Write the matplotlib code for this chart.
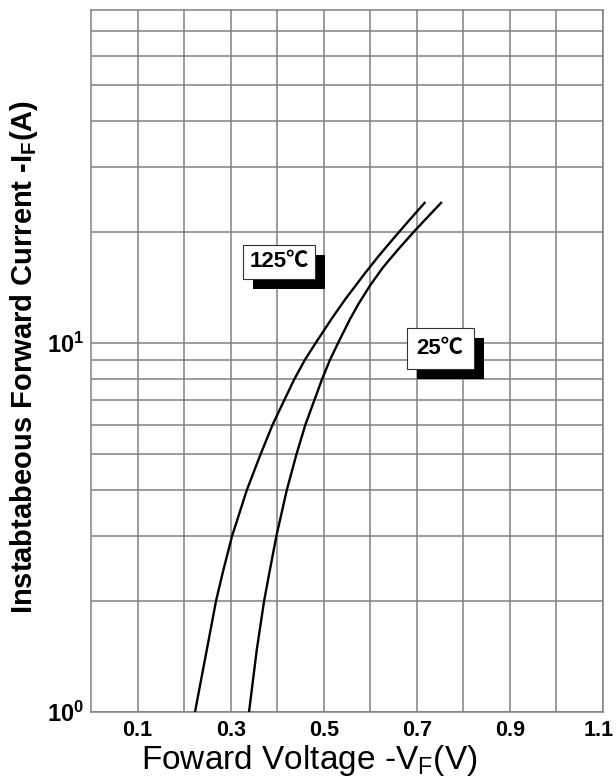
import matplotlib
matplotlib.use("Agg")
import matplotlib.pyplot as plt
import matplotlib.patheffects as pe
import matplotlib.transforms as mtransforms
from matplotlib.ticker import FixedLocator, NullFormatter

plt.rcParams['font.family'] = ['Liberation Sans', 'DejaVu Sans']
plt.rcParams['mathtext.fontset'] = 'custom'
plt.rcParams['mathtext.rm'] = 'Liberation Sans'
plt.rcParams['mathtext.bf'] = 'Liberation Sans:bold'
plt.rcParams['mathtext.it'] = 'Liberation Sans:italic'

# curves: forward voltage (V) vs forward current (A)
v_125 = [0.2234, 0.2486, 0.2686, 0.2845, 0.3031, 0.3349, 0.3644, 0.3899, 0.4151, 0.4372,
         0.4593, 0.4825, 0.5165, 0.5466, 0.5902, 0.6160, 0.6491, 0.6802, 0.7167]
i_125 = [1.0, 1.47, 2.0, 2.43, 3.0, 4.0, 5.0, 6.0, 7.0, 8.0,
         9.0, 10.0, 11.62, 13.17, 15.56, 17.1, 19.17, 21.28, 24.0]
v_25 = [0.3395, 0.3560, 0.3719, 0.3844, 0.3983, 0.4207, 0.4415, 0.4604, 0.4798, 0.4967,
        0.5133, 0.5307, 0.5565, 0.5745, 0.5992, 0.6276, 0.6607, 0.6961, 0.7520]
i_25 = [1.0, 1.47, 2.0, 2.43, 3.0, 4.0, 5.0, 6.0, 7.0, 8.0,
        9.0, 10.0, 11.62, 12.76, 14.31, 16.06, 18.0, 20.2, 24.0]

x_ticks = [0.1, 0.3, 0.5, 0.7, 0.9, 1.1]
x_tick_labels = ['0.1', '0.3', '0.5', '0.7', '0.9', '1.1']
x_grid = [0.1, 0.2, 0.3, 0.4, 0.5, 0.6, 0.7, 0.8, 0.9, 1.0]
y_ticks = [1, 10]
y_tick_labels = [r'$\mathbf{10^{0}}$', r'$\mathbf{10^{1}}$']
y_grid = [2, 3, 4, 5, 6, 7, 8, 9, 20, 30, 40, 50, 60, 70]

labels = ['125\u2103', '25\u2103']
label_pos = [(0.404, 16.6), (0.750, 9.7)]
label_pad = [0.3, 0.45]

GRID = '#808080'

fig = plt.figure(figsize=(6.16, 7.81), dpi=100)
ax = fig.add_axes([91/616, 1 - 712/781, 512/616, 702/781])

for v, i in [(v_125, i_125), (v_25, i_25)]:
    ax.plot(v, i, color='k', lw=1.7, zorder=3, solid_joinstyle='round')

ax.set_yscale('log')
ax.set_xlim(0, 1.1)
ax.set_ylim(1, 80)

ax.set_xticks(x_ticks, labels=x_tick_labels)
ax.xaxis.set_minor_locator(FixedLocator(x_grid))
ax.set_yticks(y_ticks, labels=y_tick_labels)
ax.yaxis.set_minor_locator(FixedLocator(y_grid))
ax.yaxis.set_minor_formatter(NullFormatter())
ax.tick_params(which='both', length=0)
ax.tick_params(axis='x', pad=6, labelsize=15.5)
ax.tick_params(axis='y', pad=5, labelsize=17)
for t in ax.get_xticklabels():
    t.set_fontweight('bold')
# last label sits on the figure edge: nudge it a few pixels left
last = ax.get_xticklabels()[-1]
last.set_transform(last.get_transform() + mtransforms.ScaledTranslation(-4/100, 0, fig.dpi_scale_trans))

ax.grid(True, which='both', color=GRID, lw=1.1)
for s in ax.spines.values():
    s.set_color(GRID)
    s.set_linewidth(1.1)

# white label boxes with a solid black drop shadow
for txt, (x, y), pad in zip(labels, label_pos, label_pad):
    t = ax.text(x, y, txt, ha='center', va='center', fontsize=16, fontweight='bold',
                family=['Liberation Sans', 'Noto Sans CJK SC'], color='k', zorder=5,
                bbox=dict(boxstyle=f'square,pad={pad}', fc='white', ec='#333333', lw=0.8))
    t.get_bbox_patch().set_path_effects([
        pe.SimplePatchShadow(offset=(7.2, -7.2), shadow_rgbFace='k', alpha=1.0),
        pe.Normal()])

fig.text(309/616, 1 - 760/781, r'Foward Voltage -V$_\mathrm{F}$(V)',
         ha='center', va='center', fontsize=24)
fig.text(24/616, 1 - 357/781, r'Instabtabeous Forward Current -I$_\mathbf{F}$(A)',
         ha='center', va='center', rotation=90, fontsize=21, fontweight='bold')

fig.savefig('out.png', dpi=100)
